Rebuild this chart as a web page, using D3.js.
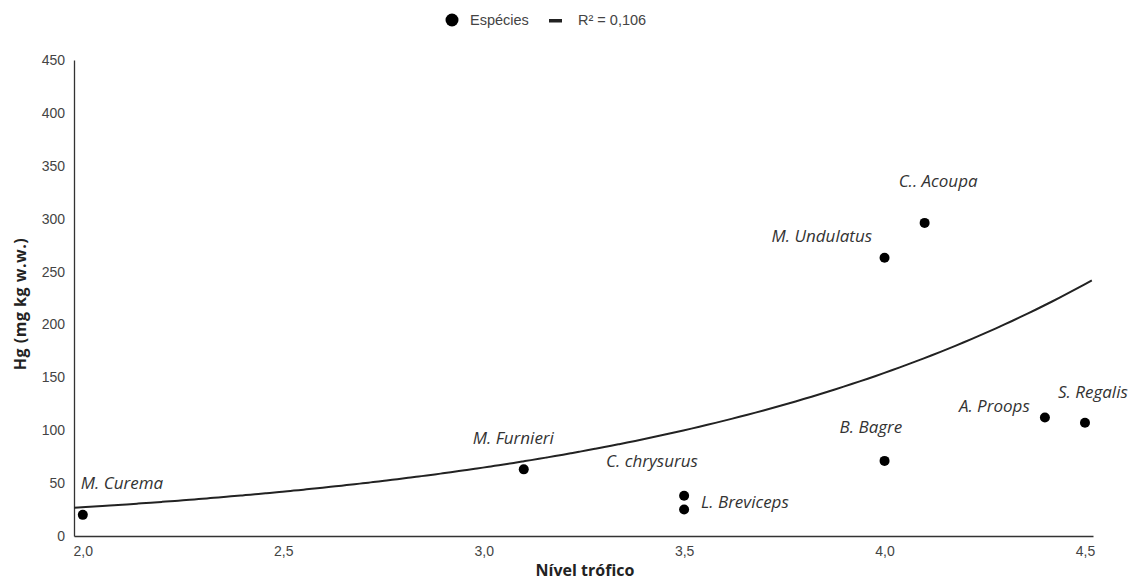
<!DOCTYPE html>
<html>
<head>
<meta charset="utf-8">
<script src="https://cdn.jsdelivr.net/npm/d3@7"></script>
<style>
  body { margin: 0; background: #fff; }
  svg { display: block; }
</style>
</head>
<body>
<svg id="chart" width="1138" height="581"></svg>
<script>
// Species, trophic level and mercury concentration
const species = ["M. Curema", "M. Furnieri", "C. chrysurus", "L. Breviceps", "B. Bagre",
                 "M. Undulatus", "C.. Acoupa", "A. Proops", "S. Regalis"];
const trophicLevel = [2.0, 3.1, 3.5, 3.5, 4.0, 4.0, 4.1, 4.4, 4.5];
const mercury = [20, 63, 38, 25, 71, 263, 296, 112, 107];

// Exponential trend y = a·e^(b·x)
const trendA = 4.79;
const trendB = 0.868;
const trendEnd = 4.517;
const trendLabel = "R² = 0,106";

// Axis ticks
const xTicks = [2.0, 2.5, 3.0, 3.5, 4.0, 4.5];
const yTicks = [0, 50, 100, 150, 200, 250, 300, 350, 400, 450];

// Label placement around each point (pixels)
const labelDx = [-2, -51, -78, 17, -45, -113, -26, -86, -27];
const labelDy = [-26, -25, -29, -2, -28, -16, -36, -6, -25];

const svg = d3.select("#chart");
const plotLeft = 74, plotRight = 1093, plotTop = 60, plotBottom = 536;

const x = d3.scaleLinear().domain([1.978, 4.52]).range([plotLeft, plotRight]);
const y = d3.scaleLinear().domain([0, 450]).range([plotBottom, plotTop]);
const fmtX = v => d3.format(".1f")(v).replace(".", ",");

// Axes (lines only, no tick marks)
const xAxis = d3.axisBottom(x).tickValues(xTicks).tickSize(0).tickPadding(10).tickFormat(fmtX);
const yAxis = d3.axisLeft(y).tickValues(yTicks).tickSize(0).tickPadding(9);

const gx = svg.append("g").attr("transform", `translate(0,${plotBottom})`).call(xAxis);
const gy = svg.append("g").attr("transform", `translate(${plotLeft},0)`).call(yAxis);
[gx, gy].forEach(g => {
  g.select(".domain").attr("stroke", "#333").attr("stroke-width", 1.3);
  g.selectAll("text").attr("fill", "#444").style("font-family", "Arial, 'Liberation Sans', sans-serif").style("font-size", "14px");
});

// Axis titles
svg.append("text")
  .attr("x", 585).attr("y", 576)
  .attr("text-anchor", "middle")
  .style("font-family", "'Open Sans', sans-serif").style("font-weight", "700").style("font-size", "16px")
  .attr("fill", "#222")
  .text("Nível trófico");

svg.append("text")
  .attr("transform", "translate(26,304) rotate(-90)")
  .attr("text-anchor", "middle")
  .style("font-family", "'Open Sans', sans-serif").style("font-weight", "700").style("font-size", "16px")
  .style("letter-spacing", "0.5px")
  .attr("fill", "#222")
  .text("Hg (mg kg w.w.)");

// Trend curve, sampled across the plot up to its end point
const trendXs = d3.range(x.domain()[0], trendEnd, 0.02).concat([trendEnd]);
const line = d3.line().x(d => x(d)).y(d => y(trendA * Math.exp(trendB * d))).curve(d3.curveMonotoneX);
svg.append("path")
  .datum(trendXs)
  .attr("d", line)
  .attr("fill", "none")
  .attr("stroke", "#222")
  .attr("stroke-width", 2);

// Points
svg.append("g").selectAll("circle")
  .data(species)
  .join("circle")
  .attr("cx", (d, i) => x(trophicLevel[i]))
  .attr("cy", (d, i) => y(mercury[i]))
  .attr("r", 5)
  .attr("fill", "#000");

// Species labels
svg.append("g").selectAll("text")
  .data(species)
  .join("text")
  .attr("x", (d, i) => x(trophicLevel[i]) + labelDx[i])
  .attr("y", (d, i) => y(mercury[i]) + labelDy[i])
  .style("font-family", "'Open Sans', sans-serif").style("font-style", "italic").style("font-size", "17px")
  .attr("fill", "#333")
  .text(d => d);

// Legend
const lg = svg.append("g").style("font-family", "Arial, 'Liberation Sans', sans-serif").style("font-size", "14.5px");
lg.append("circle").attr("cx", 452).attr("cy", 20).attr("r", 6.5).attr("fill", "#000");
lg.append("text").attr("x", 470).attr("y", 25).attr("fill", "#444").text("Espécies");
lg.append("rect").attr("x", 549).attr("y", 19).attr("width", 13).attr("height", 3.5).attr("fill", "#222");
lg.append("text").attr("x", 578).attr("y", 25).attr("fill", "#444").text(trendLabel);
</script>
</body>
</html>
